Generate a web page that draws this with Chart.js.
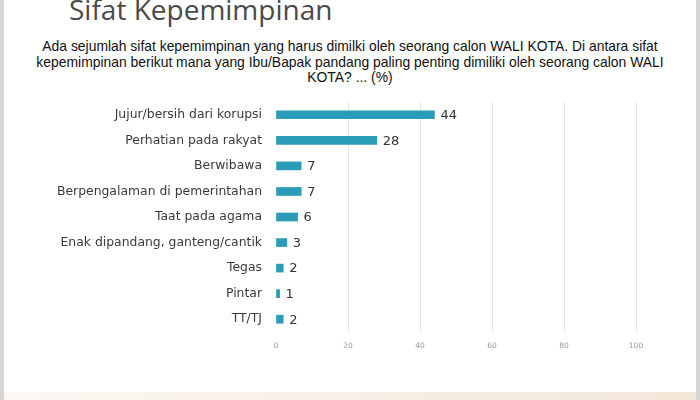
<!DOCTYPE html>
<html>
<head>
<meta charset="utf-8">
<script src="https://cdn.jsdelivr.net/npm/chart.js@4"></script>
<style>
  html, body { margin:0; padding:0; background:#fff; }
  #wrap { position:relative; width:700px; height:400px; overflow:hidden; background:#fff; }
  #wrap:before, #wrap:after { content:''; position:absolute; top:0; bottom:0; width:4px; background:#d6d6d6; z-index:3; }
  #wrap:before { left:0; }
  #wrap:after { right:0; }
  #floor { position:absolute; left:0; right:0; top:392px; height:8px;
    background:linear-gradient(90deg, #fbf8f4 0%, #f8f1e8 40%, #f4ebdf 75%, #f2e6d8 100%); }
  #title { position:absolute; left:69px; top:-10px; font:400 28px 'Open Sans', sans-serif; color:#4a4a4a; white-space:nowrap; }
  #sub { position:absolute; left:20px; width:660px; top:39px; text-align:center;
    font:13.9px 'Liberation Sans', Arial, sans-serif; line-height:15.5px; color:#111; }
  #c { position:absolute; left:0; top:0; }
</style>
</head>
<body>
<div id="wrap">
  <div id="floor"></div>
  <div id="title">Sifat Kepemimpinan</div>
  <div id="sub">Ada sejumlah sifat kepemimpinan yang harus dimilki oleh seorang calon WALI KOTA. Di antara sifat<br>kepemimpinan berikut mana yang Ibu/Bapak pandang paling penting dimiliki oleh seorang calon WALI<br>KOTA? ... (%)</div>
  <canvas id="c" width="700" height="400"></canvas>
</div>
<script>
'use strict';

// ── Data ─────────────────────────────────────────────────────────────────────
var categories = [
  'Jujur/bersih dari korupsi',
  'Perhatian pada rakyat',
  'Berwibawa',
  'Berpengalaman di pemerintahan',
  'Taat pada agama',
  'Enak dipandang, ganteng/cantik',
  'Tegas',
  'Pintar',
  'TT/TJ'
];
var values = [44, 28, 7, 7, 6, 3, 2, 1, 2];
var xTicks = [0, 20, 40, 60, 80, 100];

// ── Value labels at bar end ──────────────────────────────────────────────────
var valueLabels = {
  id: 'valueLabels',
  afterDatasetsDraw: function(chart) {
    var ctx = chart.ctx, meta = chart.getDatasetMeta(0);
    ctx.save();
    ctx.font = '500 13px "DejaVu Sans", sans-serif';
    ctx.fillStyle = '#333';
    ctx.textBaseline = 'middle';
    ctx.textAlign = 'left';
    meta.data.forEach(function(bar, i) {
      ctx.fillText(String(values[i]), bar.x + 6, bar.y + 1);
    });
    ctx.restore();
  }
};

new Chart(document.getElementById('c'), {
  type: 'bar',
  data: {
    labels: categories,
    datasets: [{ data: values, backgroundColor: '#2b9cb7', barThickness: 8 }]
  },
  options: {
    indexAxis: 'y',
    responsive: false, animation: false,
    layout: { padding: { left: 0, right: 64, top: 102, bottom: 48 } },
    plugins: { legend: { display: false }, tooltip: { enabled: false } },
    scales: {
      x: {
        min: 0, max: 100,
        afterBuildTicks: function(s) { s.ticks = xTicks.map(function(v) { return { value: v }; }); },
        afterFit: function(s) { s.height = 20; },
        border: { display: false },
        grid: { color: function(c) { return c.tick && c.tick.value === 0 ? 'rgba(0,0,0,0)' : '#e6e6e6'; }, drawTicks: false, lineWidth: 1 },
        ticks: { color: '#999', font: { family: 'DejaVu Sans', size: 7.5 }, padding: 10 }
      },
      y: {
        afterFit: function(s) { s.width = 276; },
        border: { display: false },
        grid: { display: false, drawTicks: false },
        ticks: { color: '#3a3a3a', font: { family: 'DejaVu Sans', size: 12.4 }, padding: 14 }
      }
    }
  },
  plugins: [valueLabels]
});
</script>
</body>
</html>
